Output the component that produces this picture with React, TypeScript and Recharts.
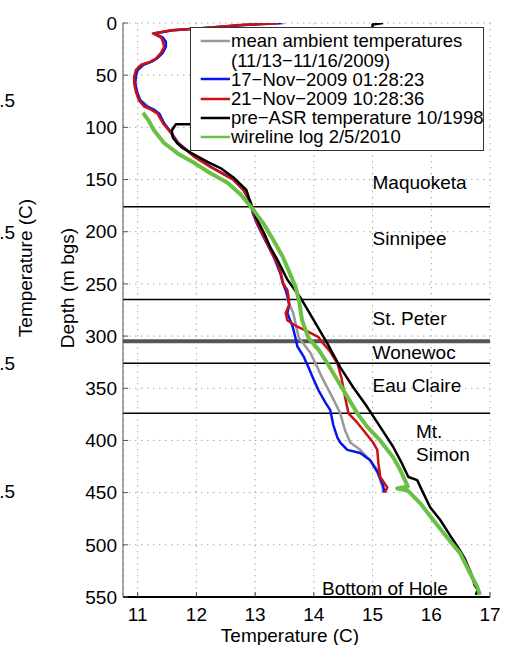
import {
  CartesianGrid,
  Legend,
  Line,
  LineChart,
  ReferenceDot,
  ReferenceLine,
  XAxis,
  YAxis,
} from 'recharts';

const FONT = '"Liberation Sans", Arial, Helvetica, sans-serif';

const tempTicks = [11, 12, 13, 14, 15, 16, 17];
const depthTicks = [0, 50, 100, 150, 200, 250, 300, 350, 400, 450, 500, 550];

// formation tops (m bgs); Wonewoc top drawn heavier
const formationTops = [176, 265, 326, 374];
const wonewocTop = 305;

const formationLabels = [
  { name: 'Maquoketa', t: 15.0, d: 159 },
  { name: 'Sinnipee', t: 15.0, d: 213 },
  { name: 'St. Peter', t: 15.0, d: 289 },
  { name: 'Wonewoc', t: 15.0, d: 322 },
  { name: 'Eau Claire', t: 15.0, d: 354 },
  { name: 'Mt.', t: 15.74, d: 398 },
  { name: 'Simon', t: 15.74, d: 420 },
  { name: 'Bottom of Hole', t: 14.14, d: 548 },
];

// mean ambient temperatures 11/13-11/16/2009
const meanDepth = [0, 2, 5, 7, 10, 14, 18, 23, 29, 34, 37, 40, 45, 51, 58, 66, 74, 80, 83, 87, 96, 105, 115, 128, 138, 150, 160, 172, 182, 192, 208, 222, 230, 240, 249, 256, 265, 278, 301, 316, 330, 342, 358, 374, 390, 402, 409, 419, 428, 438, 447, 450];
const meanTemp = [13.5, 12.8, 12.1, 11.6, 11.28, 11.42, 11.46, 11.47, 11.41, 11.32, 11.23, 11.08, 10.99, 10.96, 10.95, 10.98, 11.05, 11.18, 11.28, 11.36, 11.44, 11.57, 11.69, 11.97, 12.25, 12.64, 12.81, 12.93, 12.97, 13.04, 13.18, 13.31, 13.37, 13.44, 13.48, 13.53, 13.55, 13.65, 13.74, 13.94, 14.06, 14.16, 14.31, 14.45, 14.53, 14.62, 14.79, 14.96, 15.08, 15.13, 15.18, 15.17];

// 17-Nov-2009 01:28:23
const nov17Depth = [0, 2, 5, 7, 10, 14, 18, 23, 29, 34, 37, 40, 45, 51, 58, 66, 74, 80, 83, 87, 96, 105, 115, 128, 138, 150, 160, 172, 182, 192, 208, 222, 230, 240, 249, 256, 263, 270, 278, 291, 300, 310, 320, 330, 342, 352, 364, 371, 385, 397, 402, 409, 412, 419, 430, 443, 450];
const nov17Temp = [13.45, 12.8, 12.1, 11.6, 11.28, 11.43, 11.48, 11.48, 11.42, 11.33, 11.24, 11.1, 11.0, 10.97, 10.96, 10.99, 11.04, 11.15, 11.27, 11.37, 11.45, 11.57, 11.69, 11.97, 12.25, 12.63, 12.8, 12.92, 12.96, 13.03, 13.17, 13.3, 13.36, 13.43, 13.47, 13.52, 13.56, 13.58, 13.55, 13.64, 13.68, 13.72, 13.83, 13.91, 14.0, 14.08, 14.2, 14.28, 14.33, 14.4, 14.45, 14.57, 14.79, 14.96, 15.08, 15.18, 15.2];

// 21-Nov-2009 10:28:36
const nov21Depth = [0, 2, 5, 7, 10, 14, 18, 23, 29, 34, 37, 40, 45, 51, 58, 66, 74, 80, 83, 87, 96, 105, 115, 128, 138, 150, 160, 172, 182, 192, 208, 222, 230, 240, 249, 256, 263, 270, 278, 285, 291, 296, 301, 307, 315, 326, 340, 358, 374, 383, 390, 402, 409, 422, 435, 445, 450];
const nov21Temp = [13.39, 12.75, 12.08, 11.57, 11.26, 11.4, 11.43, 11.45, 11.39, 11.31, 11.22, 11.06, 10.97, 10.94, 10.94, 10.97, 11.02, 11.11, 11.23, 11.34, 11.43, 11.56, 11.68, 11.96, 12.24, 12.63, 12.8, 12.92, 12.97, 13.04, 13.18, 13.3, 13.38, 13.44, 13.47, 13.55, 13.57, 13.58, 13.52, 13.55, 13.72, 13.91, 14.08, 14.16, 14.28, 14.4, 14.47, 14.53, 14.59, 14.74, 14.84, 15.01, 15.08, 15.1, 15.13, 15.25, 15.21];

// pre-ASR temperature 10/1998
const preAsrDepth = [0, 1.5, 97, 97, 103, 110, 115, 120, 126, 133, 139, 148, 160, 177, 189, 201, 215, 227, 246, 263, 285, 307, 330, 349, 368, 387, 406, 422, 435, 438, 450, 464, 476, 491, 502, 513, 529, 539, 543, 548];
const preAsrTemp = [15.18, 15.0, 14.95, 11.65, 11.58, 11.6, 11.67, 11.77, 11.96, 12.19, 12.41, 12.63, 12.85, 12.95, 13.04, 13.15, 13.26, 13.38, 13.55, 13.77, 14.0, 14.23, 14.45, 14.67, 14.91, 15.13, 15.35, 15.5, 15.61, 15.76, 15.86, 15.98, 16.15, 16.32, 16.45, 16.57, 16.69, 16.74, 16.79, 16.76];

// wireline log 2/5/2010
const wirelineDepth = [86, 93, 103, 115, 125, 134, 144, 153, 164, 179, 192, 208, 224, 237, 253, 267, 285, 302, 313, 326, 342, 358, 374, 387, 400, 416, 428, 438, 444, 446, 448, 460, 476, 493, 508, 527, 540, 548];
const wirelineTemp = [11.09, 11.18, 11.28, 11.45, 11.68, 11.96, 12.24, 12.53, 12.75, 12.97, 13.14, 13.31, 13.47, 13.57, 13.69, 13.75, 13.8, 13.91, 14.08, 14.23, 14.4, 14.57, 14.74, 14.91, 15.13, 15.35, 15.47, 15.55, 15.6, 15.42, 15.6, 15.81, 16.03, 16.27, 16.49, 16.66, 16.78, 16.83];

const toPoints = (depth: number[], temp: number[]) =>
  depth.map((d, i) => ({ d, t: temp[i] }));

const series = [
  { key: 'mean', label: ['mean ambient temperatures', '(11/13\u221211/16/2009)'], color: '#999999', width: 2.5, data: toPoints(meanDepth, meanTemp) },
  { key: 'nov17', label: ['17\u2212Nov\u22122009 01:28:23'], color: '#0a14f0', width: 2.5, data: toPoints(nov17Depth, nov17Temp) },
  { key: 'nov21', label: ['21\u2212Nov\u22122009 10:28:36'], color: '#cc1111', width: 2.5, data: toPoints(nov21Depth, nov21Temp) },
  { key: 'preAsr', label: ['pre\u2212ASR temperature 10/1998'], color: '#000000', width: 2.5, data: toPoints(preAsrDepth, preAsrTemp) },
  { key: 'wireline', label: ['wireline log 2/5/2010'], color: '#6cbf45', width: 4, data: toPoints(wirelineDepth, wirelineTemp) },
];

function LegendBox() {
  return (
    <div
      style={{
        boxSizing: 'border-box',
        width: 294,
        height: 124,
        border: '1px solid #333',
        background: '#fff',
        padding: '3.4px 0',
        fontFamily: FONT,
        fontSize: 18.5,
        color: '#000',
      }}
    >
      {series.map((s) =>
        s.label.map((line, i) => (
          <div
            key={s.key + i}
            style={{ display: 'flex', alignItems: 'center', height: 19.2, whiteSpace: 'nowrap' }}
          >
            <svg width={40} height={8} style={{ flex: 'none' }}>
              {i === 0 && (
                <line x1={9.7} x2={39} y1={4} y2={4} stroke={s.color} strokeWidth={2.5} />
              )}
            </svg>
            <span style={{ lineHeight: '19.2px' }}>{line}</span>
          </div>
        )),
      )}
    </div>
  );
}

const textStyle = { fontFamily: FONT, fontSize: 19, fill: '#000' };

export default function App() {
  return (
    <div style={{ position: 'absolute', left: 0, top: 0, width: 506, height: 645, background: '#fff' }}>
      <LineChart
        width={506}
        height={645}
        layout="vertical"
        margin={{ top: 23, right: 16, bottom: 0, left: 0 }}
      >
        <CartesianGrid stroke="#a8a8a8" strokeDasharray="1.5 4.5" />
        <XAxis
          type="number"
          dataKey="t"
          domain={[10.75, 17]}
          ticks={tempTicks}
          interval={0}
          allowDataOverflow
          height={48}
          tickSize={-5}
          tickMargin={16}
          tick={textStyle}
          axisLine={{ stroke: '#000', strokeWidth: 2 }}
          tickLine={{ stroke: '#444' }}
          label={{
            content: () => (
              <text x={290} y={642} textAnchor="middle" {...textStyle}>
                Temperature (C)
              </text>
            ),
          }}
        />
        <XAxis
          xAxisId="top"
          orientation="top"
          type="number"
          domain={[10.75, 17]}
          ticks={tempTicks}
          interval={0}
          allowDataOverflow
          height={0}
          tickSize={-5}
          tick={false}
          axisLine={{ stroke: '#666' }}
          tickLine={{ stroke: '#666' }}
        />
        {/* in vertical layout depth already grows downward */}
        <YAxis
          type="number"
          dataKey="d"
          domain={[0, 550]}
          ticks={depthTicks}
          interval={0}
          allowDataOverflow
          width={123}
          tickSize={-5}
          tickMargin={11}
          tick={textStyle}
          axisLine={{ stroke: '#555' }}
          tickLine={{ stroke: '#555' }}
          label={{
            content: () => (
              <text transform="translate(74,288) rotate(-90)" textAnchor="middle" {...textStyle}>
                Depth (m bgs)
              </text>
            ),
          }}
        />
        <YAxis
          yAxisId="right"
          orientation="right"
          type="number"
          domain={[0, 550]}
          ticks={depthTicks}
          interval={0}
          allowDataOverflow
          width={0}
          tickSize={-5}
          tick={false}
          axisLine={{ stroke: '#666' }}
          tickLine={{ stroke: '#666' }}
        />

        {formationTops.map((d) => (
          <ReferenceLine key={d} y={d} stroke="#000" strokeWidth={1.5} />
        ))}
        <ReferenceLine y={wonewocTop} stroke="#555" strokeWidth={4} />

        {series.map((s) => (
          <Line
            key={s.key}
            data={s.data}
            dataKey="t"
            name={s.key}
            type="linear"
            stroke={s.color}
            strokeWidth={s.width}
            strokeLinejoin="round"
            dot={false}
            activeDot={false}
            isAnimationActive={false}
          />
        ))}

        {formationLabels.map((f) => (
          <ReferenceDot
            key={f.name}
            x={f.t}
            y={f.d}
            r={0}
            shape={(p: any) => (
              <text x={p.cx} y={p.cy} {...textStyle}>
                {f.name}
              </text>
            )}
          />
        ))}

        <Legend
          content={<LegendBox />}
          layout="horizontal"
          verticalAlign="middle"
          align="center"
          wrapperStyle={{ left: 190, top: 27, width: 294, height: 124 }}
        />
      </LineChart>

      {/* edge of the neighbouring panel */}
      <svg
        width={60}
        height={645}
        style={{ position: 'absolute', left: 0, top: 0, pointerEvents: 'none' }}
      >
        <text transform="translate(32,268) rotate(-90)" textAnchor="middle" {...textStyle}>
          Temperature (C)
        </text>
        {[100, 232, 363, 491].map((y) => (
          <text key={y} x={15} y={y} textAnchor="end" dominantBaseline="central" {...textStyle}>
            .5
          </text>
        ))}
      </svg>
    </div>
  );
}
